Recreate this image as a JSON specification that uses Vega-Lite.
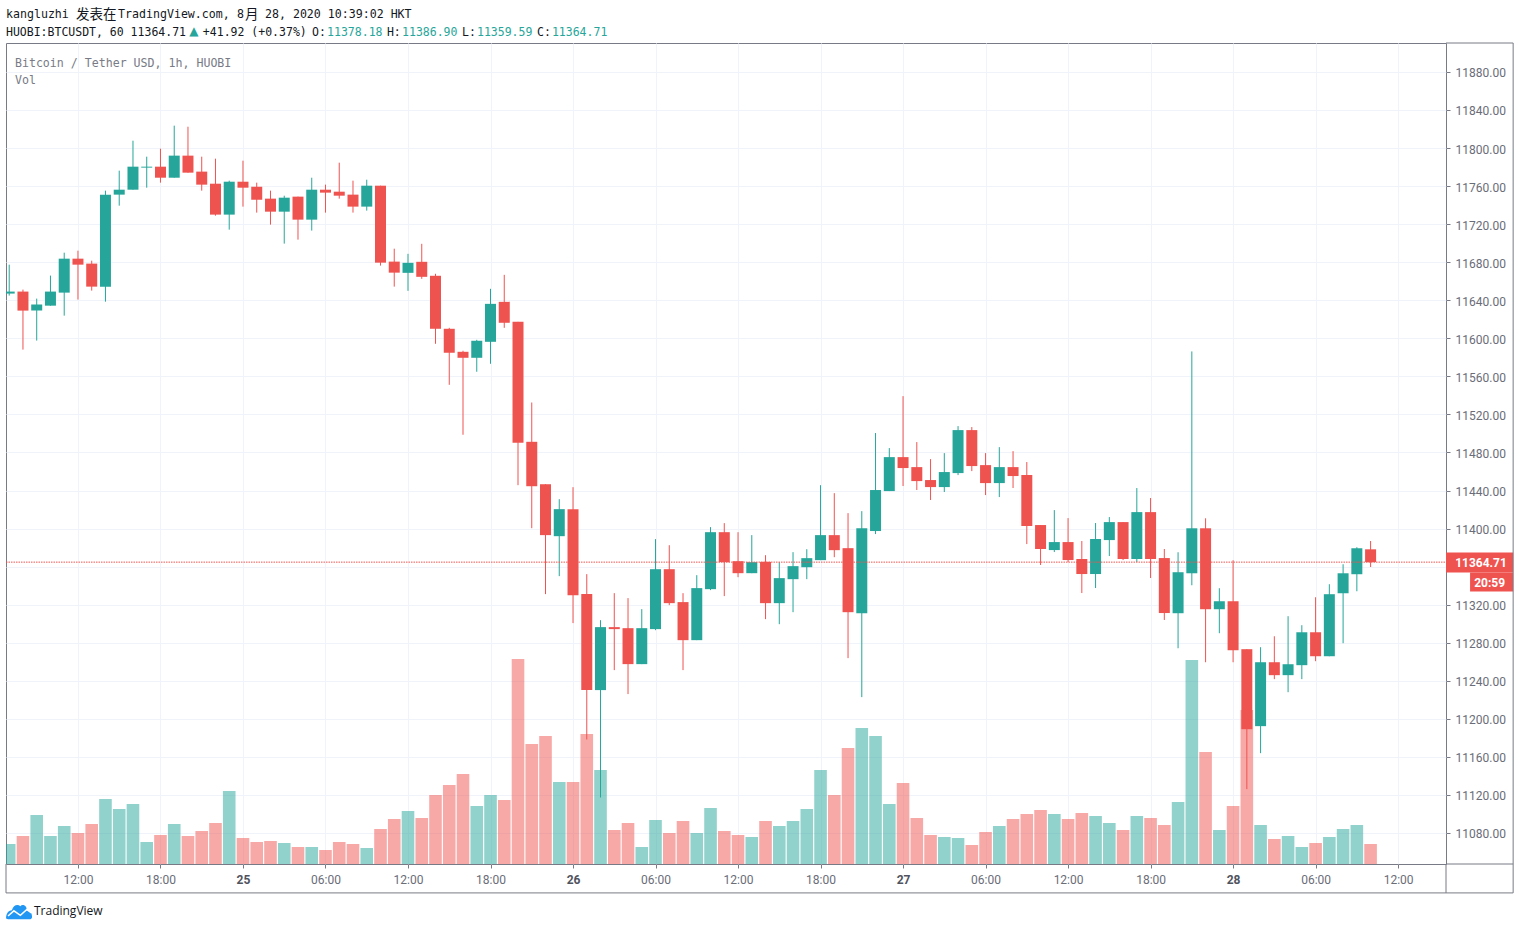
{
  "$schema": "https://vega.github.io/schema/vega-lite/v6.json",
  "width": 1440,
  "height": 821,
  "autosize": "none",
  "padding": {"left": 6, "top": 43, "right": 73, "bottom": 66},
  "background": "#ffffff",
  "config": {
    "view": {"stroke": "#787b86", "strokeWidth": 1},
    "font": "Roboto",
    "text": {"font": "DejaVu Sans Mono", "fontSize": 11.6, "align": "left", "baseline": "middle"}
  },
  "data": {
    "values": [
      {"t":"2020-08-24T07:00Z","open":11647.0,"high":11677.4,"low":11644.9,"close":11649.1,"vol":20},
      {"t":"2020-08-24T08:00Z","open":11649.1,"high":11651.2,"low":11588.1,"close":11629.1,"vol":28},
      {"t":"2020-08-24T09:00Z","open":11629.1,"high":11641.7,"low":11597.6,"close":11635.4,"vol":49},
      {"t":"2020-08-24T10:00Z","open":11634.3,"high":11665.9,"low":11634.3,"close":11649.1,"vol":28},
      {"t":"2020-08-24T11:00Z","open":11648.0,"high":11690.0,"low":11623.8,"close":11683.7,"vol":38},
      {"t":"2020-08-24T12:00Z","open":11683.7,"high":11692.1,"low":11640.7,"close":11677.4,"vol":31},
      {"t":"2020-08-24T13:00Z","open":11678.5,"high":11681.6,"low":11650.1,"close":11654.3,"vol":40},
      {"t":"2020-08-24T14:00Z","open":11654.3,"high":11755.2,"low":11638.5,"close":11751.0,"vol":65},
      {"t":"2020-08-24T15:00Z","open":11751.0,"high":11776.2,"low":11739.4,"close":11756.2,"vol":55},
      {"t":"2020-08-24T16:00Z","open":11756.2,"high":11807.7,"low":11756.2,"close":11780.4,"vol":60},
      {"t":"2020-08-24T17:00Z","open":11779.4,"high":11790.9,"low":11758.3,"close":11780.4,"vol":22},
      {"t":"2020-08-24T18:00Z","open":11780.4,"high":11799.3,"low":11763.6,"close":11768.8,"vol":29},
      {"t":"2020-08-24T19:00Z","open":11768.8,"high":11823.5,"low":11768.8,"close":11792.0,"vol":40},
      {"t":"2020-08-24T20:00Z","open":11792.0,"high":11822.4,"low":11774.1,"close":11774.1,"vol":28},
      {"t":"2020-08-24T21:00Z","open":11775.2,"high":11790.9,"low":11755.2,"close":11761.5,"vol":33},
      {"t":"2020-08-24T22:00Z","open":11762.5,"high":11788.8,"low":11728.9,"close":11730.0,"vol":41},
      {"t":"2020-08-24T23:00Z","open":11730.0,"high":11765.7,"low":11714.2,"close":11764.6,"vol":73},
      {"t":"2020-08-25T00:00Z","open":11764.6,"high":11786.7,"low":11738.4,"close":11758.3,"vol":26},
      {"t":"2020-08-25T01:00Z","open":11759.4,"high":11763.6,"low":11732.1,"close":11745.7,"vol":22},
      {"t":"2020-08-25T02:00Z","open":11746.8,"high":11755.2,"low":11719.5,"close":11733.1,"vol":23},
      {"t":"2020-08-25T03:00Z","open":11733.1,"high":11749.9,"low":11699.5,"close":11747.8,"vol":21},
      {"t":"2020-08-25T04:00Z","open":11748.9,"high":11748.9,"low":11703.7,"close":11724.7,"vol":17},
      {"t":"2020-08-25T05:00Z","open":11724.7,"high":11768.8,"low":11713.2,"close":11756.2,"vol":17},
      {"t":"2020-08-25T06:00Z","open":11756.2,"high":11761.5,"low":11732.1,"close":11753.1,"vol":14},
      {"t":"2020-08-25T07:00Z","open":11754.1,"high":11784.6,"low":11746.8,"close":11749.9,"vol":22},
      {"t":"2020-08-25T08:00Z","open":11751.0,"high":11765.7,"low":11732.1,"close":11738.4,"vol":20},
      {"t":"2020-08-25T09:00Z","open":11738.4,"high":11766.7,"low":11734.2,"close":11760.4,"vol":16},
      {"t":"2020-08-25T10:00Z","open":11760.4,"high":11760.4,"low":11676.4,"close":11679.5,"vol":35},
      {"t":"2020-08-25T11:00Z","open":11680.6,"high":11694.2,"low":11654.3,"close":11669.0,"vol":45},
      {"t":"2020-08-25T12:00Z","open":11668.8,"high":11688.8,"low":11649.9,"close":11679.3,"vol":53},
      {"t":"2020-08-25T13:00Z","open":11680.4,"high":11699.3,"low":11662.5,"close":11664.6,"vol":46},
      {"t":"2020-08-25T14:00Z","open":11665.7,"high":11667.8,"low":11594.2,"close":11610.0,"vol":69},
      {"t":"2020-08-25T15:00Z","open":11610.0,"high":11611.0,"low":11551.1,"close":11584.8,"vol":79},
      {"t":"2020-08-25T16:00Z","open":11585.8,"high":11586.9,"low":11498.6,"close":11579.5,"vol":90},
      {"t":"2020-08-25T17:00Z","open":11579.5,"high":11598.4,"low":11564.8,"close":11597.4,"vol":58},
      {"t":"2020-08-25T18:00Z","open":11596.3,"high":11652.0,"low":11573.2,"close":11636.2,"vol":69},
      {"t":"2020-08-25T19:00Z","open":11638.3,"high":11666.7,"low":11611.0,"close":11616.3,"vol":64},
      {"t":"2020-08-25T20:00Z","open":11617.3,"high":11617.3,"low":11445.6,"close":11490.2,"vol":205},
      {"t":"2020-08-25T21:00Z","open":11491.2,"high":11532.5,"low":11400.4,"close":11444.5,"vol":120},
      {"t":"2020-08-25T22:00Z","open":11446.6,"high":11446.6,"low":11331.1,"close":11393.1,"vol":128},
      {"t":"2020-08-25T23:00Z","open":11392.0,"high":11430.9,"low":11350.0,"close":11420.4,"vol":82},
      {"t":"2020-08-26T00:00Z","open":11420.4,"high":11443.5,"low":11300.6,"close":11330.0,"vol":82},
      {"t":"2020-08-26T01:00Z","open":11331.1,"high":11352.1,"low":11178.3,"close":11230.2,"vol":130},
      {"t":"2020-08-26T02:00Z","open":11230.2,"high":11303.7,"low":11117.3,"close":11296.4,"vol":94},
      {"t":"2020-08-26T03:00Z","open":11296.4,"high":11332.1,"low":11251.2,"close":11294.3,"vol":34},
      {"t":"2020-08-26T04:00Z","open":11295.3,"high":11326.9,"low":11226.0,"close":11257.5,"vol":41},
      {"t":"2020-08-26T05:00Z","open":11257.5,"high":11315.3,"low":11257.5,"close":11295.3,"vol":17},
      {"t":"2020-08-26T06:00Z","open":11294.3,"high":11388.9,"low":11293.2,"close":11357.3,"vol":44},
      {"t":"2020-08-26T07:00Z","open":11357.3,"high":11382.5,"low":11319.5,"close":11321.6,"vol":31},
      {"t":"2020-08-26T08:00Z","open":11322.7,"high":11332.1,"low":11251.2,"close":11282.7,"vol":43},
      {"t":"2020-08-26T09:00Z","open":11282.7,"high":11351.0,"low":11282.7,"close":11337.4,"vol":31},
      {"t":"2020-08-26T10:00Z","open":11336.3,"high":11401.5,"low":11335.3,"close":11396.2,"vol":56},
      {"t":"2020-08-26T11:00Z","open":11396.2,"high":11405.7,"low":11329.0,"close":11364.7,"vol":33},
      {"t":"2020-08-26T12:00Z","open":11365.7,"high":11396.2,"low":11348.9,"close":11353.1,"vol":29},
      {"t":"2020-08-26T13:00Z","open":11353.1,"high":11393.1,"low":11353.1,"close":11364.7,"vol":27},
      {"t":"2020-08-26T14:00Z","open":11365.0,"high":11372.0,"low":11304.8,"close":11321.6,"vol":43},
      {"t":"2020-08-26T15:00Z","open":11321.6,"high":11364.7,"low":11299.5,"close":11347.9,"vol":38},
      {"t":"2020-08-26T16:00Z","open":11346.8,"high":11375.2,"low":11312.1,"close":11360.5,"vol":43},
      {"t":"2020-08-26T17:00Z","open":11359.4,"high":11378.3,"low":11346.8,"close":11368.9,"vol":55},
      {"t":"2020-08-26T18:00Z","open":11366.8,"high":11445.6,"low":11366.8,"close":11393.1,"vol":94},
      {"t":"2020-08-26T19:00Z","open":11393.1,"high":11437.2,"low":11369.9,"close":11377.3,"vol":69},
      {"t":"2020-08-26T20:00Z","open":11379.4,"high":11416.2,"low":11263.8,"close":11312.1,"vol":116},
      {"t":"2020-08-26T21:00Z","open":11311.1,"high":11418.3,"low":11222.8,"close":11400.4,"vol":136},
      {"t":"2020-08-26T22:00Z","open":11397.4,"high":11500.4,"low":11394.2,"close":11440.5,"vol":128},
      {"t":"2020-08-26T23:00Z","open":11439.4,"high":11484.6,"low":11439.4,"close":11475.1,"vol":60},
      {"t":"2020-08-27T00:00Z","open":11475.1,"high":11539.2,"low":11444.7,"close":11463.6,"vol":81},
      {"t":"2020-08-27T01:00Z","open":11464.6,"high":11490.9,"low":11440.5,"close":11449.9,"vol":46},
      {"t":"2020-08-27T02:00Z","open":11451.0,"high":11473.0,"low":11430.0,"close":11443.6,"vol":29},
      {"t":"2020-08-27T03:00Z","open":11443.6,"high":11479.3,"low":11438.4,"close":11459.4,"vol":27},
      {"t":"2020-08-27T04:00Z","open":11458.3,"high":11507.7,"low":11456.2,"close":11503.5,"vol":26},
      {"t":"2020-08-27T05:00Z","open":11503.5,"high":11506.7,"low":11460.4,"close":11465.7,"vol":19},
      {"t":"2020-08-27T06:00Z","open":11466.7,"high":11479.3,"low":11435.2,"close":11447.8,"vol":32},
      {"t":"2020-08-27T07:00Z","open":11447.8,"high":11485.6,"low":11433.1,"close":11464.6,"vol":38},
      {"t":"2020-08-27T08:00Z","open":11464.6,"high":11481.4,"low":11442.6,"close":11455.2,"vol":45},
      {"t":"2020-08-27T09:00Z","open":11456.2,"high":11469.9,"low":11383.7,"close":11402.6,"vol":50},
      {"t":"2020-08-27T10:00Z","open":11403.7,"high":11403.7,"low":11361.7,"close":11378.5,"vol":54},
      {"t":"2020-08-27T11:00Z","open":11377.4,"high":11419.4,"low":11375.3,"close":11385.8,"vol":50},
      {"t":"2020-08-27T12:00Z","open":11385.8,"high":11411.0,"low":11364.8,"close":11366.9,"vol":45},
      {"t":"2020-08-27T13:00Z","open":11368.0,"high":11386.9,"low":11332.2,"close":11352.2,"vol":51},
      {"t":"2020-08-27T14:00Z","open":11352.2,"high":11405.8,"low":11337.5,"close":11389.0,"vol":48},
      {"t":"2020-08-27T15:00Z","open":11387.9,"high":11412.1,"low":11371.1,"close":11406.8,"vol":41},
      {"t":"2020-08-27T16:00Z","open":11406.8,"high":11406.8,"low":11366.9,"close":11368.0,"vol":34},
      {"t":"2020-08-27T17:00Z","open":11368.0,"high":11442.6,"low":11364.8,"close":11417.3,"vol":48},
      {"t":"2020-08-27T18:00Z","open":11417.3,"high":11432.1,"low":11348.0,"close":11368.0,"vol":46},
      {"t":"2020-08-27T19:00Z","open":11369.0,"high":11378.5,"low":11303.9,"close":11311.2,"vol":39},
      {"t":"2020-08-27T20:00Z","open":11311.0,"high":11375.1,"low":11274.2,"close":11354.1,"vol":62},
      {"t":"2020-08-27T21:00Z","open":11353.0,"high":11586.2,"low":11340.4,"close":11400.3,"vol":204},
      {"t":"2020-08-27T22:00Z","open":11400.3,"high":11410.8,"low":11259.5,"close":11315.2,"vol":112},
      {"t":"2020-08-27T23:00Z","open":11315.2,"high":11337.3,"low":11290.0,"close":11323.6,"vol":34},
      {"t":"2020-08-28T00:00Z","open":11323.6,"high":11366.7,"low":11259.5,"close":11272.1,"vol":58},
      {"t":"2020-08-28T01:00Z","open":11273.2,"high":11273.2,"low":11126.1,"close":11189.1,"vol":154},
      {"t":"2020-08-28T02:00Z","open":11192.3,"high":11275.3,"low":11163.9,"close":11259.5,"vol":39},
      {"t":"2020-08-28T03:00Z","open":11259.5,"high":11286.8,"low":11241.7,"close":11245.9,"vol":25},
      {"t":"2020-08-28T04:00Z","open":11245.9,"high":11307.9,"low":11228.0,"close":11257.4,"vol":28},
      {"t":"2020-08-28T05:00Z","open":11256.4,"high":11298.4,"low":11241.7,"close":11291.0,"vol":17},
      {"t":"2020-08-28T06:00Z","open":11291.0,"high":11327.8,"low":11260.6,"close":11265.8,"vol":21},
      {"t":"2020-08-28T07:00Z","open":11265.8,"high":11341.5,"low":11265.8,"close":11331.0,"vol":27},
      {"t":"2020-08-28T08:00Z","open":11332.0,"high":11362.5,"low":11279.5,"close":11353.0,"vol":35},
      {"t":"2020-08-28T09:00Z","open":11352.0,"high":11380.4,"low":11334.1,"close":11379.3,"vol":39},
      {"t":"2020-08-28T10:00Z","open":11378.18,"high":11386.9,"low":11359.59,"close":11364.71,"vol":20}
    ]
  },
  "resolve": {"scale": {"y": "independent"}},
  "layer": [
    {
      "mark": {"type": "bar", "size": 12.6, "opacity": 0.5, "clip": true},
      "encoding": {
        "x": {
          "field": "t",
          "type": "temporal",
          "title": null,
          "scale": {"type": "utc", "nice": false, "padding": 0, "domain": [{"year":2020,"month":8,"date":24,"hours":6,"minutes":46,"utc":true}, {"year":2020,"month":8,"date":28,"hours":15,"minutes":29,"utc":true}]},
          "axis": {
            "values": ["2020-08-24T12:00:00Z", "2020-08-24T18:00:00Z", "2020-08-25T00:00:00Z", "2020-08-25T06:00:00Z", "2020-08-25T12:00:00Z", "2020-08-25T18:00:00Z", "2020-08-26T00:00:00Z", "2020-08-26T06:00:00Z", "2020-08-26T12:00:00Z", "2020-08-26T18:00:00Z", "2020-08-27T00:00:00Z", "2020-08-27T06:00:00Z", "2020-08-27T12:00:00Z", "2020-08-27T18:00:00Z", "2020-08-28T00:00:00Z", "2020-08-28T06:00:00Z", "2020-08-28T12:00:00Z"],
            "labelExpr": "utchours(datum.value) === 0 ? utcFormat(datum.value, '%d') : utcFormat(datum.value, '%H:%M')",
            "labelFontSize": 12,
            "labelColor": {"condition": {"test": "utchours(datum.value) === 0", "value": "#50535e"}, "value": "#6a6d78"},
            "labelFontWeight": {"condition": {"test": "utchours(datum.value) === 0", "value": "bold"}, "value": "normal"},
            "labelPadding": 6,
            "labelFlush": false,
            "labelOverlap": false,
            "tickSize": 4,
            "tickColor": "#787b86",
            "domain": false,
            "grid": true,
            "gridColor": "#f0f3fa"
          }
        },
        "y": {
          "field": "vol",
          "type": "quantitative",
          "axis": null,
          "scale": {"domain": [0, 821]}
        },
        "color": {"condition": {"test": "datum.close > datum.open", "value": "#26a69a"}, "value": "#ef5350"}
      }
    },
    {
      "layer": [
        {
          "mark": {"type": "rule", "strokeWidth": 1},
          "encoding": {
            "x": {"field": "t", "type": "temporal"},
            "y": {
              "field": "low",
              "type": "quantitative",
              "title": null,
              "scale": {"domain": [11047.4, 11910.4], "nice": false, "zero": false},
              "axis": {
                "orient": "right",
                "values": [11080, 11120, 11160, 11200, 11240, 11280, 11320, 11360, 11400, 11440, 11480, 11520, 11560, 11600, 11640, 11680, 11720, 11760, 11800, 11840, 11880],
                "labelExpr": "datum.value === 11360 ? '' : format(datum.value, '.2f')",
                "labelFontSize": 12,
                "labelColor": "#6a6d78",
                "labelPadding": 5,
                "labelOffset": 1,
                "tickSize": 4,
                "tickColor": "#787b86",
                "domain": false,
                "grid": true,
                "gridColor": "#f0f3fa"
              }
            },
            "y2": {"field": "high"},
            "color": {"condition": {"test": "datum.close > datum.open", "value": "#26a69a"}, "value": "#ef5350"}
          }
        },
        {
          "mark": {"type": "bar", "size": 11, "clip": true},
          "encoding": {
            "x": {"field": "t", "type": "temporal"},
            "y": {"field": "open", "type": "quantitative"},
            "y2": {"field": "close"},
            "color": {"condition": {"test": "datum.close > datum.open", "value": "#26a69a"}, "value": "#ef5350"}
          }
        },
        {
          "data": {"values": [{}]},
          "layer": [
            {
              "mark": {"type": "rule", "color": "#ef5350", "strokeWidth": 1, "strokeDash": [1.5, 1]},
              "encoding": {
                "x": {"datum": {"year":2020,"month":8,"date":24,"hours":6,"minutes":46,"utc":true}, "type": "temporal"},
                "x2": {"datum": {"year":2020,"month":8,"date":28,"hours":15,"minutes":29,"utc":true}},
                "y": {"datum": 11364.71, "type": "quantitative"}
              }
            },
            {
              "mark": {"type": "rect", "color": "#ef5350"},
              "encoding": {
                "x": {"datum": {"year":2020,"month":8,"date":28,"hours":15,"minutes":29,"utc":true}, "type": "temporal"},
                "x2": {"datum": {"year":2020,"month":8,"date":28,"hours":20,"minutes":22,"utc":true}},
                "y": {"datum": 11374.9, "type": "quantitative"},
                "y2": {"datum": 11353.8}
              }
            },
            {
              "mark": {"type": "rect", "color": "#ef5350"},
              "encoding": {
                "x": {"datum": {"year":2020,"month":8,"date":28,"hours":17,"minutes":14,"utc":true}, "type": "temporal"},
                "x2": {"datum": {"year":2020,"month":8,"date":28,"hours":20,"minutes":22,"utc":true}},
                "y": {"datum": 11353.8, "type": "quantitative"},
                "y2": {"datum": 11333.9}
              }
            },
            {
              "mark": {"type": "text", "text": "11364.71", "font": "Roboto", "fontSize": 12, "fontWeight": "bold", "color": "#ffffff"},
              "encoding": {
                "x": {"datum": {"year":2020,"month":8,"date":28,"hours":16,"minutes":9,"utc":true}, "type": "temporal"},
                "y": {"datum": 11363.6, "type": "quantitative"}
              }
            },
            {
              "mark": {"type": "text", "text": "20:59", "font": "Roboto", "fontSize": 12, "fontWeight": "bold", "color": "#ffffff", "align": "right"},
              "encoding": {
                "x": {"datum": {"year":2020,"month":8,"date":28,"hours":19,"minutes":47,"utc":true}, "type": "temporal"},
                "y": {"datum": 11343.3, "type": "quantitative"}
              }
            },
            {
              "mark": {"type": "rule", "color": "#787b86", "strokeWidth": 1},
              "encoding": {
                "x": {"datum": {"year":2020,"month":8,"date":28,"hours":15,"minutes":29,"utc":true}, "type": "temporal"},
                "x2": {"datum": {"year":2020,"month":8,"date":28,"hours":20,"minutes":22,"utc":true}},
                "y": {"datum": 11910.4, "type": "quantitative"}
              }
            },
            {
              "mark": {"type": "rule", "color": "#787b86", "strokeWidth": 1},
              "encoding": {
                "x": {"datum": {"year":2020,"month":8,"date":28,"hours":15,"minutes":29,"utc":true}, "type": "temporal"},
                "x2": {"datum": {"year":2020,"month":8,"date":28,"hours":20,"minutes":22,"utc":true}},
                "y": {"datum": 11047.4, "type": "quantitative"}
              }
            },
            {
              "mark": {"type": "rule", "color": "#787b86", "strokeWidth": 1},
              "encoding": {
                "x": {"datum": {"year":2020,"month":8,"date":24,"hours":6,"minutes":46,"utc":true}, "type": "temporal"},
                "x2": {"datum": {"year":2020,"month":8,"date":28,"hours":20,"minutes":22,"utc":true}},
                "y": {"datum": 11017.0, "type": "quantitative"}
              }
            },
            {
              "mark": {"type": "rule", "color": "#787b86", "strokeWidth": 1},
              "encoding": {
                "x": {"datum": {"year":2020,"month":8,"date":28,"hours":20,"minutes":22,"utc":true}, "type": "temporal"},
                "y": {"datum": 11017.0, "type": "quantitative"},
                "y2": {"datum": 11910.4}
              }
            },
            {
              "mark": {"type": "rule", "color": "#787b86", "strokeWidth": 1},
              "encoding": {
                "x": {"datum": {"year":2020,"month":8,"date":28,"hours":15,"minutes":29,"utc":true}, "type": "temporal"},
                "y": {"datum": 11017.0, "type": "quantitative"},
                "y2": {"datum": 11047.4}
              }
            },
            {
              "mark": {"type": "rule", "color": "#787b86", "strokeWidth": 1},
              "encoding": {
                "x": {"datum": {"year":2020,"month":8,"date":24,"hours":6,"minutes":46,"utc":true}, "type": "temporal"},
                "y": {"datum": 11017.0, "type": "quantitative"},
                "y2": {"datum": 11047.4}
              }
            },
            {
              "mark": {"type": "text", "text": "kangluzhi", "color": "#131722"},
              "encoding": {"x": {"datum": {"year":2020,"month":8,"date":24,"hours":6,"minutes":46,"utc":true}, "type": "temporal"}, "y": {"datum": 11939.5, "type": "quantitative"}}
            },
            {
              "mark": {"type": "text", "text": "发表在", "font": "Noto Sans CJK SC", "fontSize": 13.5, "color": "#131722"},
              "encoding": {"x": {"datum": {"year":2020,"month":8,"date":24,"hours":11,"minutes":51,"utc":true}, "type": "temporal"}, "y": {"datum": 11939.5, "type": "quantitative"}}
            },
            {
              "mark": {"type": "text", "text": "TradingView.com,", "color": "#131722"},
              "encoding": {"x": {"datum": {"year":2020,"month":8,"date":24,"hours":14,"minutes":55,"utc":true}, "type": "temporal"}, "y": {"datum": 11939.5, "type": "quantitative"}}
            },
            {
              "mark": {"type": "text", "text": "8", "color": "#131722"},
              "encoding": {"x": {"datum": {"year":2020,"month":8,"date":24,"hours":23,"minutes":34,"utc":true}, "type": "temporal"}, "y": {"datum": 11939.5, "type": "quantitative"}}
            },
            {
              "mark": {"type": "text", "text": "月", "font": "Noto Sans CJK SC", "fontSize": 13.5, "color": "#131722"},
              "encoding": {"x": {"datum": {"year":2020,"month":8,"date":25,"hours":0,"minutes":9,"utc":true}, "type": "temporal"}, "y": {"datum": 11939.5, "type": "quantitative"}}
            },
            {
              "mark": {"type": "text", "text": "28, 2020 10:39:02 HKT", "color": "#131722"},
              "encoding": {"x": {"datum": {"year":2020,"month":8,"date":25,"hours":1,"minutes":36,"utc":true}, "type": "temporal"}, "y": {"datum": 11939.5, "type": "quantitative"}}
            },
            {
              "mark": {"type": "text", "text": "HUOBI:BTCUSDT, 60 11364.71", "fontSize": 11.5, "color": "#131722"},
              "encoding": {"x": {"datum": {"year":2020,"month":8,"date":24,"hours":6,"minutes":46,"utc":true}, "type": "temporal"}, "y": {"datum": 11921.0, "type": "quantitative"}}
            },
            {
              "mark": {"type": "text", "text": "▲", "color": "#26a69a", "font": "DejaVu Sans", "fontSize": 12, "align": "center"},
              "encoding": {"x": {"datum": {"year":2020,"month":8,"date":24,"hours":20,"minutes":26,"utc":true}, "type": "temporal"}, "y": {"datum": 11923.0, "type": "quantitative"}}
            },
            {
              "mark": {"type": "text", "text": "+41.92 (+0.37%)", "fontSize": 11.5, "color": "#131722"},
              "encoding": {"x": {"datum": {"year":2020,"month":8,"date":24,"hours":21,"minutes":5,"utc":true}, "type": "temporal"}, "y": {"datum": 11921.0, "type": "quantitative"}}
            },
            {
              "mark": {"type": "text", "text": "O:", "fontSize": 11.5, "color": "#131722"},
              "encoding": {"x": {"datum": {"year":2020,"month":8,"date":25,"hours":5,"minutes":1,"utc":true}, "type": "temporal"}, "y": {"datum": 11921.0, "type": "quantitative"}}
            },
            {
              "mark": {"type": "text", "text": "11378.18", "fontSize": 11.5, "color": "#26a69a"},
              "encoding": {"x": {"datum": {"year":2020,"month":8,"date":25,"hours":6,"minutes":7,"utc":true}, "type": "temporal"}, "y": {"datum": 11921.0, "type": "quantitative"}}
            },
            {
              "mark": {"type": "text", "text": "H:", "fontSize": 11.5, "color": "#131722"},
              "encoding": {"x": {"datum": {"year":2020,"month":8,"date":25,"hours":10,"minutes":28,"utc":true}, "type": "temporal"}, "y": {"datum": 11921.0, "type": "quantitative"}}
            },
            {
              "mark": {"type": "text", "text": "11386.90", "fontSize": 11.5, "color": "#26a69a"},
              "encoding": {"x": {"datum": {"year":2020,"month":8,"date":25,"hours":11,"minutes":34,"utc":true}, "type": "temporal"}, "y": {"datum": 11921.0, "type": "quantitative"}}
            },
            {
              "mark": {"type": "text", "text": "L:", "fontSize": 11.5, "color": "#131722"},
              "encoding": {"x": {"datum": {"year":2020,"month":8,"date":25,"hours":15,"minutes":56,"utc":true}, "type": "temporal"}, "y": {"datum": 11921.0, "type": "quantitative"}}
            },
            {
              "mark": {"type": "text", "text": "11359.59", "fontSize": 11.5, "color": "#26a69a"},
              "encoding": {"x": {"datum": {"year":2020,"month":8,"date":25,"hours":17,"minutes":1,"utc":true}, "type": "temporal"}, "y": {"datum": 11921.0, "type": "quantitative"}}
            },
            {
              "mark": {"type": "text", "text": "C:", "fontSize": 11.5, "color": "#131722"},
              "encoding": {"x": {"datum": {"year":2020,"month":8,"date":25,"hours":21,"minutes":23,"utc":true}, "type": "temporal"}, "y": {"datum": 11921.0, "type": "quantitative"}}
            },
            {
              "mark": {"type": "text", "text": "11364.71", "fontSize": 11.5, "color": "#26a69a"},
              "encoding": {"x": {"datum": {"year":2020,"month":8,"date":25,"hours":22,"minutes":28,"utc":true}, "type": "temporal"}, "y": {"datum": 11921.0, "type": "quantitative"}}
            },
            {
              "mark": {"type": "text", "text": "Bitcoin / Tether USD, 1h, HUOBI", "color": "#787b86"},
              "encoding": {"x": {"datum": {"year":2020,"month":8,"date":24,"hours":7,"minutes":25,"utc":true}, "type": "temporal"}, "y": {"datum": 11888.0, "type": "quantitative"}}
            },
            {
              "mark": {"type": "text", "text": "Vol", "color": "#787b86"},
              "encoding": {"x": {"datum": {"year":2020,"month":8,"date":24,"hours":7,"minutes":25,"utc":true}, "type": "temporal"}, "y": {"datum": 11870.8, "type": "quantitative"}}
            },
            {
              "mark": {
                "type": "point",
                "filled": true,
                "opacity": 1,
                "color": "#2196f3",
                "size": 676,
                "shape": "M-1 0.55 C-1 0.15 -0.85 -0.05 -0.55 -0.1 C-0.45 -0.5 -0.1 -0.6 0.1 -0.4 C0.25 -0.6 0.6 -0.45 0.6 -0.1 C0.85 -0.1 1 0.15 1 0.4 C1 0.55 0.9 0.6 0.8 0.6 L-0.85 0.6 Z"
              },
              "encoding": {"x": {"datum": {"year":2020,"month":8,"date":24,"hours":7,"minutes":43,"utc":true}, "type": "temporal"}, "y": {"datum": 10997.5, "type": "quantitative"}}
            },
            {
              "mark": {
                "type": "point",
                "filled": false,
                "opacity": 1,
                "color": "#ffffff",
                "strokeWidth": 1.5,
                "size": 676,
                "shape": "M-0.85 0.35 L-0.4 -0.05 L0.1 0.3 L0.6 -0.15 L0.95 0.1"
              },
              "encoding": {"x": {"datum": {"year":2020,"month":8,"date":24,"hours":7,"minutes":43,"utc":true}, "type": "temporal"}, "y": {"datum": 10997.5, "type": "quantitative"}}
            },
            {
              "mark": {"type": "text", "text": "TradingView", "font": "Open Sans", "fontSize": 12, "color": "#131722"},
              "encoding": {"x": {"datum": {"year":2020,"month":8,"date":24,"hours":8,"minutes":48,"utc":true}, "type": "temporal"}, "y": {"datum": 10997.5, "type": "quantitative"}}
            }
          ]
        }
      ]
    }
  ]
}
